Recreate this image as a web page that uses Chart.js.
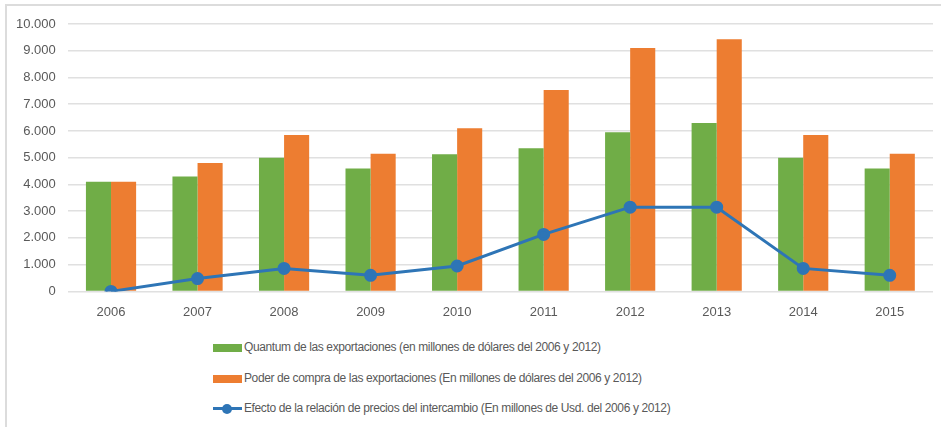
<!DOCTYPE html>
<html>
<head>
<meta charset="utf-8">
<script src="https://cdn.jsdelivr.net/npm/chart.js@4.4.1/dist/chart.umd.min.js"></script>
<style>
  html, body { margin: 0; padding: 0; background: #fff; }
  #frame {
    position: absolute; left: 5px; top: 4px; width: 936px; height: 423px;
    border-top: 2px solid #dcdcdc; border-left: 2px solid #dcdcdc; box-sizing: border-box;
  }
  #wrap { position: absolute; left: 0; top: 0; width: 941px; height: 325px; }
  #legend { position: absolute; left: 213px; top: 340px; font-family: "Liberation Sans Narrow", "Liberation Sans", sans-serif; font-size: 12px; letter-spacing: -0.38px; color: #595959; }
  .item { height: 30.5px; display: flex; align-items: flex-start; }
  .sw { width: 29px; height: 8px; margin-top: 4px; margin-right: 2px; position: relative; }
  .ln { width: 29px; height: 3px; margin-top: 6px; margin-right: 2px; position: relative; }
  .dot { position: absolute; left: 9px; top: -3.5px; width: 10px; height: 10px; border-radius: 50%; }
</style>
</head>
<body>
<div id="frame"></div>
<div id="wrap"><canvas id="myChart"></canvas></div>
<div id="legend"></div>
<script>
const years = ['2006', '2007', '2008', '2009', '2010', '2011', '2012', '2013', '2014', '2015'];
const quantum = [4100, 4300, 5000, 4600, 5130, 5350, 5950, 6300, 5000, 4600];
const poderCompra = [4100, 4800, 5850, 5150, 6100, 7530, 9100, 9430, 5850, 5150];
const efectoPrecios = [0, 480, 860, 600, 950, 2130, 3150, 3150, 860, 600];
const yTicks = [0, 1000, 2000, 3000, 4000, 5000, 6000, 7000, 8000, 9000, 10000];

const labelFont = { family: '"Liberation Sans Narrow", "Liberation Sans", sans-serif', size: 13 };

const ctx = document.getElementById('myChart').getContext('2d');

const chart = new Chart(ctx, {
    type: 'bar',
    data: {
        labels: years,
        datasets: [{
            type: 'line',
            label: 'Efecto de la relación de precios del intercambio (En millones de Usd. del 2006 y 2012)',
            data: efectoPrecios,
            borderColor: '#2E75B6',
            backgroundColor: '#2E75B6',
            borderWidth: 3,
            pointRadius: 5,
            pointHoverRadius: 5,
            tension: 0,
            order: 0
        }, {
            label: 'Quantum de las exportaciones (en millones de dólares del 2006 y 2012)',
            data: quantum,
            backgroundColor: '#70AD47',
            order: 1
        }, {
            label: 'Poder de compra de las exportaciones (En millones de dólares del 2006 y 2012)',
            data: poderCompra,
            backgroundColor: '#ED7D31',
            order: 1
        }]
    },
    options: {
        responsive: true,
        maintainAspectRatio: false,
        animation: false,
        datasets: {
            bar: { categoryPercentage: 0.58, barPercentage: 1.0 }
        },
        plugins: {
            legend: { display: false },
            tooltip: { enabled: false }
        },
        scales: {
            x: {
                grid: { display: false },
                border: { display: false },
                ticks: { color: '#595959', font: labelFont, padding: 5 }
            },
            y: {
                min: 0,
                max: 10000,
                afterBuildTicks: (axis) => { axis.ticks = yTicks.map(v => ({ value: v })); },
                grid: { color: '#e0e0e0', lineWidth: 1.5, drawTicks: false },
                border: { display: false },
                ticks: {
                    color: '#595959',
                    font: labelFont,
                    padding: 12,
                    callback: (v) => v.toLocaleString('de-DE')
                }
            }
        },
        layout: {
            padding: { left: 4, top: 24, right: 8, bottom: 0 }
        }
    }
});

// legend in Excel order: green, orange, blue line
const legend = document.getElementById('legend');
[1, 2, 0].forEach((i) => {
    const ds = chart.data.datasets[i];
    const row = document.createElement('div');
    row.className = 'item';
    const mark = document.createElement('div');
    if (ds.type === 'line') {
        mark.className = 'ln';
        mark.style.background = ds.borderColor;
        const dot = document.createElement('div');
        dot.className = 'dot';
        dot.style.background = ds.borderColor;
        mark.appendChild(dot);
    } else {
        mark.className = 'sw';
        mark.style.background = ds.backgroundColor;
    }
    const txt = document.createElement('span');
    txt.textContent = ds.label;
    row.appendChild(mark);
    row.appendChild(txt);
    legend.appendChild(row);
});
</script>
</body>
</html>
